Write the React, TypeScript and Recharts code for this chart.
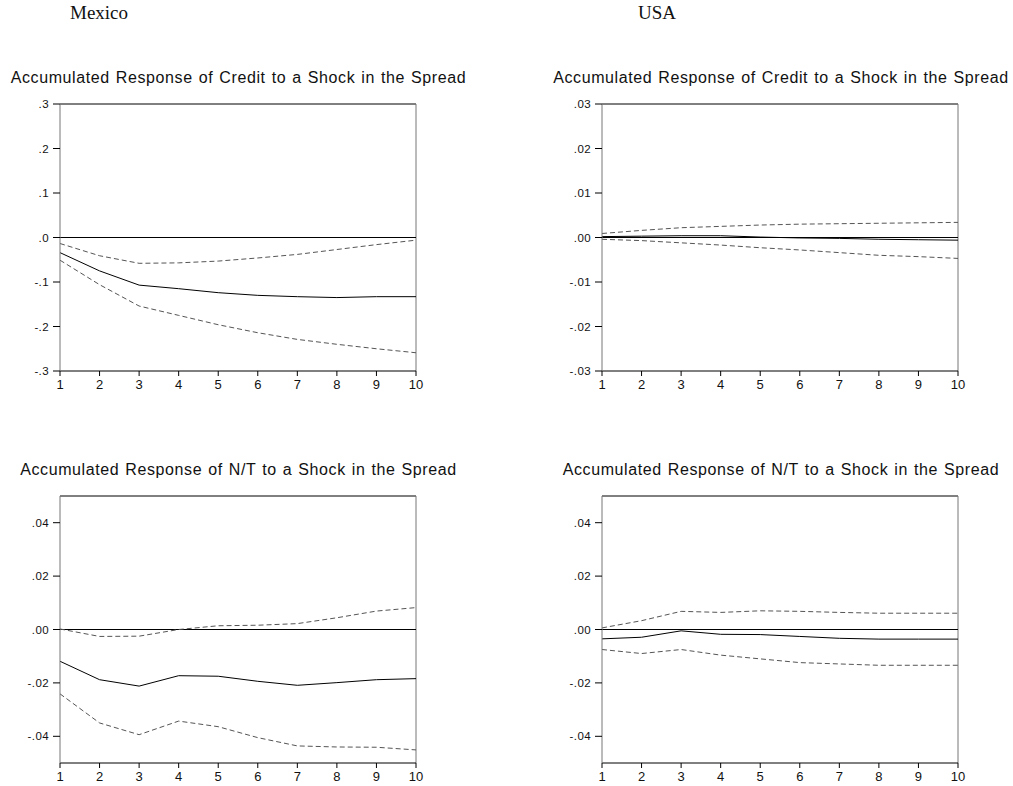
import React from 'react';
import { LineChart, Line, XAxis, YAxis, ReferenceLine } from 'recharts';

// horizons (periods after the shock)
const horizons = [1, 2, 3, 4, 5, 6, 7, 8, 9, 10];

// Mexico - credit
const mxCreditResp = [-0.034, -0.075, -0.107, -0.115, -0.124, -0.130, -0.133, -0.135, -0.133, -0.133];
const mxCreditUpper = [-0.0135, -0.041, -0.058, -0.057, -0.053, -0.046, -0.038, -0.027, -0.016, -0.006];
const mxCreditLower = [-0.051, -0.106, -0.154, -0.175, -0.196, -0.214, -0.229, -0.240, -0.250, -0.259];

// USA - credit
const usCreditResp = [0.0002, 0.0003, 0.0004, 0.0004, 0.0001, -0.0001, -0.0002, -0.0004, -0.0005, -0.0006];
const usCreditUpper = [0.0009, 0.0016, 0.0022, 0.0025, 0.0028, 0.0030, 0.0031, 0.0032, 0.0033, 0.0034];
const usCreditLower = [-0.0004, -0.0007, -0.0012, -0.0017, -0.0023, -0.0028, -0.0034, -0.0040, -0.0043, -0.0047];

// Mexico - N/T
const mxNtResp = [-0.0119, -0.0188, -0.0212, -0.0173, -0.0175, -0.0194, -0.0209, -0.0199, -0.0188, -0.0184];
const mxNtUpper = [0.0002, -0.0026, -0.0025, 0.0, 0.0014, 0.0016, 0.0022, 0.0044, 0.0069, 0.0082];
const mxNtLower = [-0.0241, -0.035, -0.0394, -0.0343, -0.0364, -0.0405, -0.0436, -0.044, -0.0441, -0.0451];

// USA - N/T
const usNtResp = [-0.0035, -0.0029, -0.0005, -0.0018, -0.0019, -0.0026, -0.0033, -0.0036, -0.0036, -0.0036];
const usNtUpper = [0.0006, 0.0033, 0.0068, 0.0064, 0.007, 0.0068, 0.0064, 0.0061, 0.0061, 0.0061];
const usNtLower = [-0.0075, -0.009, -0.0075, -0.0096, -0.011, -0.0124, -0.0129, -0.0134, -0.0134, -0.0134];

// axis ticks
const mxCreditTicks = [-0.3, -0.2, -0.1, 0, 0.1, 0.2, 0.3];
const usCreditTicks = [-0.03, -0.02, -0.01, 0, 0.01, 0.02, 0.03];
const ntTicks = [-0.04, -0.02, 0, 0.02, 0.04];

const creditTitle = 'Accumulated Response of Credit to a Shock in the Spread';
const ntTitle = 'Accumulated Response of N/T to a Shock in the Spread';

const sans = '"Liberation Sans", Arial, sans-serif';
const serif = '"Liberation Serif", "Times New Roman", serif';

const PLOT_W = 356;
const PLOT_H = 267;

// EViews style: drop the leading zero (.3, -.01, .00)
const fmt = (decimals: number) => (v: number) => {
  const s = Math.abs(v).toFixed(decimals).replace(/^0/, '');
  return v < 0 ? '-' + s : s;
};

interface PanelProps {
  title: string;
  resp: number[];
  upper: number[];
  lower: number[];
  domain: [number, number];
  ticks: number[];
  decimals: number;
  plotLeft: number;
  plotTop: number;
  titleCenter: number;
  titleBaseline: number;
}

const Panel: React.FC<PanelProps> = ({
  title, resp, upper, lower, domain, ticks, decimals, plotLeft, plotTop, titleCenter, titleBaseline,
}) => {
  const data = horizons.map((h, i) => ({ h, resp: resp[i], upper: upper[i], lower: lower[i] }));
  return (
    <>
      <div
        style={{
          position: 'absolute',
          left: titleCenter - 250,
          top: titleBaseline - 13.5,
          width: 500,
          textAlign: 'center',
          whiteSpace: 'nowrap',
          fontFamily: sans,
          fontSize: 16,
          lineHeight: '16px',
          letterSpacing: 0.6,
          wordSpacing: 1,
          color: '#111',
        }}
      >
        {title}
      </div>
      <div style={{ position: 'absolute', left: plotLeft - 60, top: plotTop - 10 }}>
        <LineChart
          width={60 + PLOT_W + 10}
          height={10 + PLOT_H + 25}
          data={data}
          margin={{ top: 10, right: 10, bottom: 0, left: 0 }}
        >
          <XAxis
            dataKey="h"
            type="number"
            domain={[1, 10]}
            ticks={horizons}
            height={25}
            interval={0}
            axisLine={{ stroke: '#000' }}
            tickLine={{ stroke: '#000' }}
            tickSize={5}
            tickMargin={4}
            fontSize={13}
            fontFamily={sans}
            tick={{ fill: '#111', fontSize: 13, fontFamily: sans }}
          />
          <YAxis
            type="number"
            domain={domain}
            ticks={ticks}
            width={60}
            interval={0}
            tickFormatter={fmt(decimals)}
            axisLine={{ stroke: '#777' }}
            tickLine={{ stroke: '#000' }}
            tickSize={7}
            tickMargin={4}
            fontSize={11.5}
            fontFamily={sans}
            tick={{ fill: '#111', fontSize: 11.5, fontFamily: sans, letterSpacing: 0.4 }}
          />
          <ReferenceLine y={domain[1]} stroke="#000" />
          <ReferenceLine x={10} stroke="#777" />
          <ReferenceLine y={0} stroke="#000" />
          <Line type="linear" dataKey="upper" stroke="#555" strokeWidth={1} strokeDasharray="5 3" dot={false} isAnimationActive={false} />
          <Line type="linear" dataKey="lower" stroke="#555" strokeWidth={1} strokeDasharray="5 3" dot={false} isAnimationActive={false} />
          <Line type="linear" dataKey="resp" stroke="#000" strokeWidth={1} dot={false} isAnimationActive={false} />
        </LineChart>
      </div>
    </>
  );
};

const countryStyle: React.CSSProperties = {
  position: 'absolute',
  top: 2.6,
  fontFamily: serif,
  fontSize: 19,
  lineHeight: '19px',
  color: '#111',
};

export default function App() {
  return (
    <div style={{ position: 'absolute', left: 0, top: 0, width: 1013, height: 786, background: '#fff' }}>
      <div style={{ ...countryStyle, left: 70 }}>Mexico</div>
      <div style={{ ...countryStyle, left: 638 }}>USA</div>

      <Panel
        title={creditTitle}
        resp={mxCreditResp}
        upper={mxCreditUpper}
        lower={mxCreditLower}
        domain={[-0.3, 0.3]}
        ticks={mxCreditTicks}
        decimals={1}
        plotLeft={60}
        plotTop={104}
        titleCenter={238.5}
        titleBaseline={83.3}
      />
      <Panel
        title={creditTitle}
        resp={usCreditResp}
        upper={usCreditUpper}
        lower={usCreditLower}
        domain={[-0.03, 0.03]}
        ticks={usCreditTicks}
        decimals={2}
        plotLeft={602}
        plotTop={104}
        titleCenter={781}
        titleBaseline={83.3}
      />
      <Panel
        title={ntTitle}
        resp={mxNtResp}
        upper={mxNtUpper}
        lower={mxNtLower}
        domain={[-0.05, 0.05]}
        ticks={ntTicks}
        decimals={2}
        plotLeft={60}
        plotTop={496}
        titleCenter={238.5}
        titleBaseline={475}
      />
      <Panel
        title={ntTitle}
        resp={usNtResp}
        upper={usNtUpper}
        lower={usNtLower}
        domain={[-0.05, 0.05]}
        ticks={ntTicks}
        decimals={2}
        plotLeft={602}
        plotTop={496}
        titleCenter={781}
        titleBaseline={475}
      />
    </div>
  );
}
